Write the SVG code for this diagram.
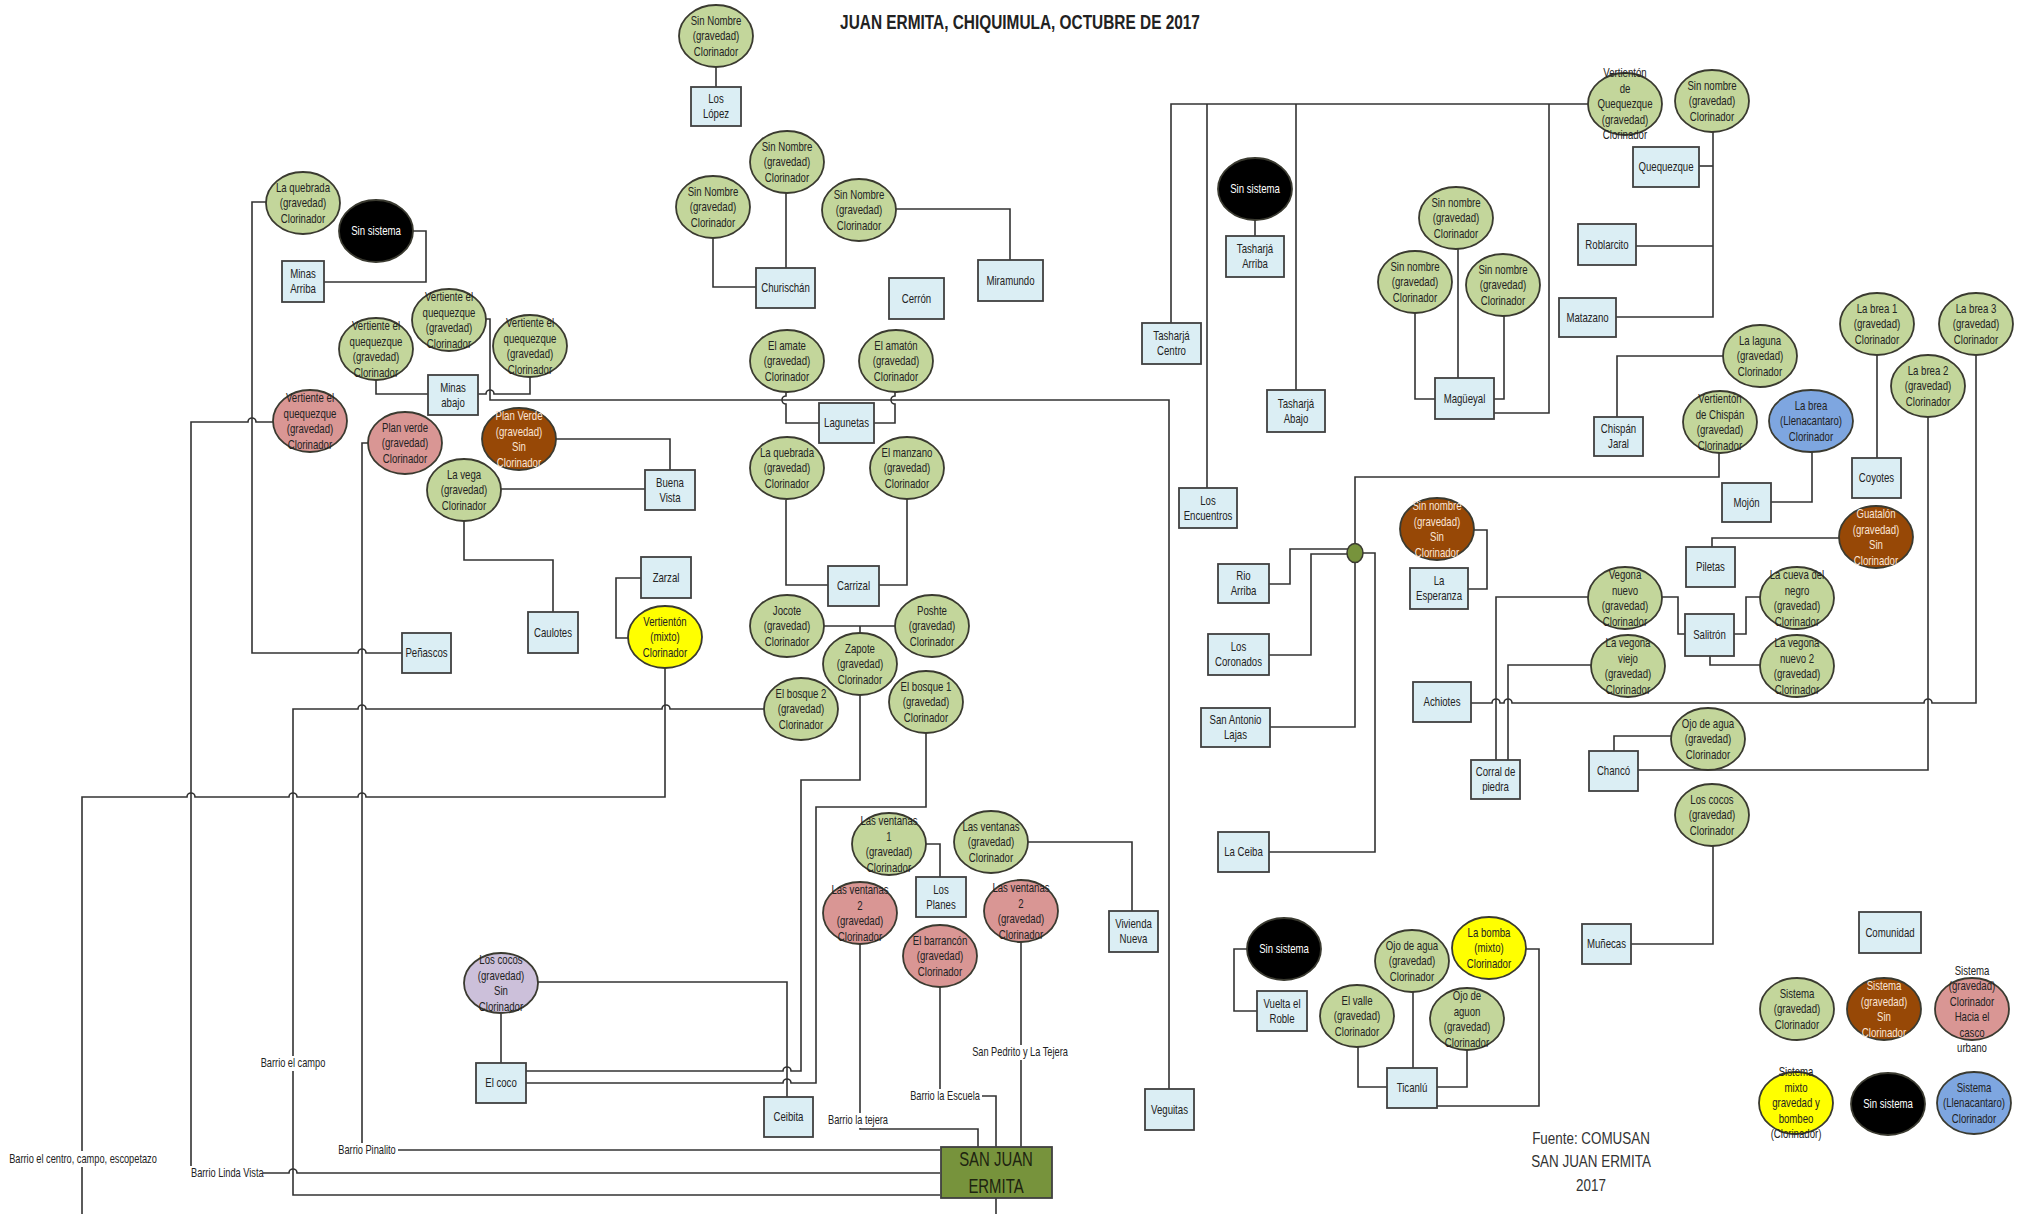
<svg xmlns="http://www.w3.org/2000/svg" width="2030" height="1214" viewBox="0 0 2030 1214">
<style>
.e{stroke:#3a3a30;stroke-width:1.8}
.gr{fill:#c3d69b}.pk{fill:#d99694}.br{fill:#974806}.ye{fill:#ffff00}.bk{fill:#000}.bl{fill:#7ea6e0}.pu{fill:#ccc0da}
.b{fill:#dbeef4;stroke:#404040;stroke-width:1.8}
.t{font-family:"Liberation Sans",Arial,sans-serif;font-size:12.5px;fill:#222;text-anchor:middle}
.w{fill:#fff}.l{fill:#fbe5d6}
.lab{font-family:"Liberation Sans",Arial,sans-serif;font-size:12px;fill:#222}
.bg{fill:#fff}
#conn path{fill:none;stroke:#333;stroke-width:1.6}
</style>
<rect width="2030" height="1214" fill="#fff"/>
<text transform="translate(1020,29) scale(0.79,1)" style="font-family:'Liberation Sans',Arial,sans-serif;font-size:19.5px;font-weight:bold;fill:#222;text-anchor:middle">JUAN ERMITA, CHIQUIMULA, OCTUBRE DE 2017</text>

<g id="conn">
<path d="M267,202 H252 V653 H358 a4,4 0 0 1 8,0 H402"/>
<path d="M413,231 H426 V282 H324"/>
<path d="M376,380 V394 H428"/>
<path d="M478,394 H486 a4,4 0 0 1 8,0 H530 V377"/>
<path d="M486,319 H490 V400 H1169 V1089"/>
<path d="M191,1168 V422 H248 a4,4 0 0 1 8,0 H274"/>
<path d="M262,1173 H289 a4,4 0 0 1 8,0 H940"/>
<path d="M369,443 H362 V1144"/>
<path d="M396,1150 H940"/>
<path d="M556,439 H670 V470"/>
<path d="M501,489 H645"/>
<path d="M464,521 V560 H553 V612"/>
<path d="M641,578 H616 V638 H628"/>
<path d="M82,1214 V797 H187 a4,4 0 0 1 8,0 H289 a4,4 0 0 1 8,0 H358 a4,4 0 0 1 8,0 H665 V668"/>
<path d="M940,1195 H293 V709 H358 a4,4 0 0 1 8,0 H662 a4,4 0 0 1 8,0 H764"/>
<path d="M716,67 V87"/>
<path d="M786,193 V268"/>
<path d="M713,238 V287 H756"/>
<path d="M896,209 H1010 V260"/>
<path d="M786,392 V396 a4,4 0 0 0 0,8 V423 H819"/>
<path d="M895,392 V396 a4,4 0 0 0 0,8 V423 H874"/>
<path d="M786,500 V585 H828"/>
<path d="M907,499 V585 H879"/>
<path d="M823,626 H895 M860,626 V633"/>
<path d="M860,695 V780 H801 V1071 H791 a4,4 0 0 0 -8,0 H526"/>
<path d="M926,733 V807 H816 V1083 H791 a4,4 0 0 0 -8,0 H526"/>
<path d="M538,982 H787 V1097"/>
<path d="M501,1014 V1063"/>
<path d="M926,844 H940 V877"/>
<path d="M1028,842 H1132 V911"/>
<path d="M860,944 V1129 H978 V1147"/>
<path d="M940,987 V1092"/>
<path d="M982,1096 H996 V1147"/>
<path d="M1021,942 V1147"/>
<path d="M996,1198 V1214"/>
<path d="M1171,323 V104 H1589"/>
<path d="M1207,104 V488"/>
<path d="M1296,104 V390"/>
<path d="M1494,413 H1549 V104"/>
<path d="M1255,220 V236"/>
<path d="M1458,249 V378"/>
<path d="M1415,313 V399 H1435"/>
<path d="M1504,316 V399 H1494"/>
<path d="M1713,132 V317 H1616"/>
<path d="M1713,166 H1699"/>
<path d="M1713,246 H1636"/>
<path d="M1724,356 H1617 V417"/>
<path d="M1877,355 V458"/>
<path d="M1928,417 V770 H1638"/>
<path d="M1471,703 H1492 a4,4 0 0 1 8,0 H1504 a4,4 0 0 1 8,0 H1924 a4,4 0 0 1 8,0 H1976 V355"/>
<path d="M1812,452 V502 H1771"/>
<path d="M1719,453 V477 H1355 V544"/>
<path d="M1362,553 H1375 V852 H1269"/>
<path d="M1348,549 H1290 V584 H1269"/>
<path d="M1348,554 H1311 V655 H1269"/>
<path d="M1355,562 V727 H1270"/>
<path d="M1474,530 H1487 V589 H1468"/>
<path d="M1840,538 H1712 V547"/>
<path d="M1661,597 H1678 V634 H1685"/>
<path d="M1734,634 H1746 V597 H1760"/>
<path d="M1710,656 V665 H1760"/>
<path d="M1588,597 H1496 V760"/>
<path d="M1592,665 H1508 V760"/>
<path d="M1672,736 H1614 V751"/>
<path d="M1713,846 V944 H1631"/>
<path d="M1247,949 H1234 V1011 H1257"/>
<path d="M1358,1047 V1087 H1387"/>
<path d="M1413,992 V1068"/>
<path d="M1467,1050 V1087 H1437"/>
<path d="M1525,949 H1539 V1106 H1437"/>
</g>

<g id="labels">
<rect class="bg" x="6" y="1151" width="154" height="16"/>
<text class="lab" transform="translate(83,1163) scale(0.77,1)" text-anchor="middle">Barrio el centro, campo, escopetazo</text>
<rect class="bg" x="189" y="1166" width="74" height="15"/>
<text class="lab" transform="translate(191,1177) scale(0.77,1)">Barrio Linda Vista</text>
<rect class="bg" x="337" y="1143" width="61" height="15"/>
<text class="lab" transform="translate(367,1154) scale(0.77,1)" text-anchor="middle">Barrio Pinalito</text>
<rect class="bg" x="258" y="1056" width="70" height="15"/>
<text class="lab" transform="translate(293,1067) scale(0.77,1)" text-anchor="middle">Barrio el campo</text>
<rect class="bg" x="825" y="1113" width="67" height="15"/>
<text class="lab" transform="translate(858,1124) scale(0.77,1)" text-anchor="middle">Barrio la tejera</text>
<rect class="bg" x="908" y="1089" width="74" height="15"/>
<text class="lab" transform="translate(945,1100) scale(0.77,1)" text-anchor="middle">Barrio la Escuela</text>
<rect class="bg" x="970" y="1045" width="100" height="15"/>
<text class="lab" transform="translate(1020,1056) scale(0.77,1)" text-anchor="middle">San Pedrito y La Tejera</text>
</g>

<!-- boxes -->
<g id="n_minas_arriba"><rect class="b" x="282" y="261" width="42" height="41"/><text class="t" transform="translate(303,281.5) scale(0.77,1)"><tspan x="0" y="-3.2">Minas</tspan><tspan x="0" y="11.8">Arriba</tspan></text></g>
<g id="n_minas_abajo"><rect class="b" x="428" y="375" width="50" height="40"/><text class="t" transform="translate(453,395) scale(0.77,1)"><tspan x="0" y="-3.2">Minas</tspan><tspan x="0" y="11.8">abajo</tspan></text></g>
<g id="n_buena_vista"><rect class="b" x="645" y="470" width="50" height="40"/><text class="t" transform="translate(670,490) scale(0.77,1)"><tspan x="0" y="-3.2">Buena</tspan><tspan x="0" y="11.8">Vista</tspan></text></g>
<g id="n_caulotes"><rect class="b" x="528" y="612" width="50" height="41"/><text class="t" transform="translate(553,632.5) scale(0.77,1)"><tspan x="0" y="4.3">Caulotes</tspan></text></g>
<g id="n_zarzal"><rect class="b" x="641" y="557" width="50" height="41"/><text class="t" transform="translate(666,577.5) scale(0.77,1)"><tspan x="0" y="4.3">Zarzal</tspan></text></g>
<g id="n_penascos"><rect class="b" x="402" y="633" width="49" height="40"/><text class="t" transform="translate(426.5,653) scale(0.77,1)"><tspan x="0" y="4.3">Peñascos</tspan></text></g>
<g id="n_los_lopez"><rect class="b" x="691" y="87" width="50" height="39"/><text class="t" transform="translate(716,106.5) scale(0.77,1)"><tspan x="0" y="-3.2">Los</tspan><tspan x="0" y="11.8">López</tspan></text></g>
<g id="n_churischan"><rect class="b" x="756" y="268" width="59" height="40"/><text class="t" transform="translate(785.5,288) scale(0.77,1)"><tspan x="0" y="4.3">Churischán</tspan></text></g>
<g id="n_cerron"><rect class="b" x="889" y="278" width="55" height="41"/><text class="t" transform="translate(916.5,298.5) scale(0.77,1)"><tspan x="0" y="4.3">Cerrón</tspan></text></g>
<g id="n_miramundo"><rect class="b" x="978" y="260" width="65" height="41"/><text class="t" transform="translate(1010.5,280.5) scale(0.77,1)"><tspan x="0" y="4.3">Miramundo</tspan></text></g>
<g id="n_lagunetas"><rect class="b" x="819" y="403" width="55" height="40"/><text class="t" transform="translate(846.5,423) scale(0.77,1)"><tspan x="0" y="4.3">Lagunetas</tspan></text></g>
<g id="n_carrizal"><rect class="b" x="828" y="566" width="51" height="40"/><text class="t" transform="translate(853.5,586) scale(0.77,1)"><tspan x="0" y="4.3">Carrizal</tspan></text></g>
<g id="n_los_planes"><rect class="b" x="916" y="877" width="50" height="40"/><text class="t" transform="translate(941,897) scale(0.77,1)"><tspan x="0" y="-3.2">Los</tspan><tspan x="0" y="11.8">Planes</tspan></text></g>
<g id="n_vivienda_nueva"><rect class="b" x="1109" y="911" width="49" height="41"/><text class="t" transform="translate(1133.5,931.5) scale(0.77,1)"><tspan x="0" y="-3.2">Vivienda</tspan><tspan x="0" y="11.8">Nueva</tspan></text></g>
<g id="n_ceibita"><rect class="b" x="764" y="1097" width="49" height="40"/><text class="t" transform="translate(788.5,1117) scale(0.77,1)"><tspan x="0" y="4.3">Ceibita</tspan></text></g>
<g id="n_el_coco"><rect class="b" x="476" y="1063" width="50" height="40"/><text class="t" transform="translate(501,1083) scale(0.77,1)"><tspan x="0" y="4.3">El coco</tspan></text></g>
<g id="n_veguitas"><rect class="b" x="1145" y="1089" width="49" height="41"/><text class="t" transform="translate(1169.5,1109.5) scale(0.77,1)"><tspan x="0" y="4.3">Veguitas</tspan></text></g>
<g id="n_sje"><rect x="941" y="1147" width="111" height="51" fill="#77933c" stroke="#404040" stroke-width="1.8"/><text transform="translate(996,0) scale(0.71,1)" style="font-family:'Liberation Sans',Arial,sans-serif;font-size:21px;fill:#1e2410;text-anchor:middle"><tspan x="0" y="1166">SAN JUAN</tspan><tspan x="0" y="1193">ERMITA</tspan></text></g>
<g id="n_tasharja_centro"><rect class="b" x="1142" y="323" width="59" height="41"/><text class="t" transform="translate(1171.5,343.5) scale(0.77,1)"><tspan x="0" y="-3.2">Tasharjá</tspan><tspan x="0" y="11.8">Centro</tspan></text></g>
<g id="n_tasharja_arriba"><rect class="b" x="1226" y="236" width="58" height="41"/><text class="t" transform="translate(1255,256.5) scale(0.77,1)"><tspan x="0" y="-3.2">Tasharjá</tspan><tspan x="0" y="11.8">Arriba</tspan></text></g>
<g id="n_tasharja_abajo"><rect class="b" x="1267" y="390" width="58" height="42"/><text class="t" transform="translate(1296,411) scale(0.77,1)"><tspan x="0" y="-3.2">Tasharjá</tspan><tspan x="0" y="11.8">Abajo</tspan></text></g>
<g id="n_los_encuentros"><rect class="b" x="1179" y="488" width="58" height="40"/><text class="t" transform="translate(1208,508) scale(0.77,1)"><tspan x="0" y="-3.2">Los</tspan><tspan x="0" y="11.8">Encuentros</tspan></text></g>
<g id="n_rio_arriba"><rect class="b" x="1218" y="564" width="51" height="39"/><text class="t" transform="translate(1243.5,583.5) scale(0.77,1)"><tspan x="0" y="-3.2">Rio</tspan><tspan x="0" y="11.8">Arriba</tspan></text></g>
<g id="n_los_coronados"><rect class="b" x="1208" y="634" width="61" height="41"/><text class="t" transform="translate(1238.5,654.5) scale(0.77,1)"><tspan x="0" y="-3.2">Los</tspan><tspan x="0" y="11.8">Coronados</tspan></text></g>
<g id="n_san_antonio"><rect class="b" x="1201" y="708" width="69" height="39"/><text class="t" transform="translate(1235.5,727.5) scale(0.77,1)"><tspan x="0" y="-3.2">San Antonio</tspan><tspan x="0" y="11.8">Lajas</tspan></text></g>
<g id="n_la_ceiba"><rect class="b" x="1218" y="832" width="51" height="40"/><text class="t" transform="translate(1243.5,852) scale(0.77,1)"><tspan x="0" y="4.3">La Ceiba</tspan></text></g>
<g id="n_vuelta_roble"><rect class="b" x="1257" y="991" width="50" height="40"/><text class="t" transform="translate(1282,1011) scale(0.77,1)"><tspan x="0" y="-3.2">Vuelta el</tspan><tspan x="0" y="11.8">Roble</tspan></text></g>
<g id="n_ticanlu"><rect class="b" x="1387" y="1068" width="50" height="40"/><text class="t" transform="translate(1412,1088) scale(0.77,1)"><tspan x="0" y="4.3">Ticanlú</tspan></text></g>
<g id="n_munecas"><rect class="b" x="1582" y="924" width="49" height="40"/><text class="t" transform="translate(1606.5,944) scale(0.77,1)"><tspan x="0" y="4.3">Muñecas</tspan></text></g>
<g id="n_quequezque"><rect class="b" x="1633" y="147" width="66" height="40"/><text class="t" transform="translate(1666,167) scale(0.77,1)"><tspan x="0" y="4.3">Quequezque</tspan></text></g>
<g id="n_roblarcito"><rect class="b" x="1578" y="224" width="58" height="41"/><text class="t" transform="translate(1607,244.5) scale(0.77,1)"><tspan x="0" y="4.3">Roblarcito</tspan></text></g>
<g id="n_matazano"><rect class="b" x="1559" y="298" width="57" height="39"/><text class="t" transform="translate(1587.5,317.5) scale(0.77,1)"><tspan x="0" y="4.3">Matazano</tspan></text></g>
<g id="n_magueyal"><rect class="b" x="1435" y="378" width="59" height="41"/><text class="t" transform="translate(1464.5,398.5) scale(0.77,1)"><tspan x="0" y="4.3">Magüeyal</tspan></text></g>
<g id="n_chispan_jaral"><rect class="b" x="1594" y="417" width="49" height="39"/><text class="t" transform="translate(1618.5,436.5) scale(0.77,1)"><tspan x="0" y="-3.2">Chispán</tspan><tspan x="0" y="11.8">Jaral</tspan></text></g>
<g id="n_coyotes"><rect class="b" x="1852" y="458" width="49" height="40"/><text class="t" transform="translate(1876.5,478) scale(0.77,1)"><tspan x="0" y="4.3">Coyotes</tspan></text></g>
<g id="n_mojon"><rect class="b" x="1722" y="483" width="49" height="39"/><text class="t" transform="translate(1746.5,502.5) scale(0.77,1)"><tspan x="0" y="4.3">Mojón</tspan></text></g>
<g id="n_piletas"><rect class="b" x="1686" y="547" width="49" height="40"/><text class="t" transform="translate(1710.5,567) scale(0.77,1)"><tspan x="0" y="4.3">Piletas</tspan></text></g>
<g id="n_la_esperanza"><rect class="b" x="1410" y="568" width="58" height="41"/><text class="t" transform="translate(1439,588.5) scale(0.77,1)"><tspan x="0" y="-3.2">La</tspan><tspan x="0" y="11.8">Esperanza</tspan></text></g>
<g id="n_salitron"><rect class="b" x="1685" y="614" width="49" height="42"/><text class="t" transform="translate(1709.5,635) scale(0.77,1)"><tspan x="0" y="4.3">Salitrón</tspan></text></g>
<g id="n_achiotes"><rect class="b" x="1413" y="682" width="58" height="40"/><text class="t" transform="translate(1442,702) scale(0.77,1)"><tspan x="0" y="4.3">Achiotes</tspan></text></g>
<g id="n_corral"><rect class="b" x="1471" y="760" width="49" height="39"/><text class="t" transform="translate(1495.5,779.5) scale(0.77,1)"><tspan x="0" y="-3.2">Corral de</tspan><tspan x="0" y="11.8">piedra</tspan></text></g>
<g id="n_chanco"><rect class="b" x="1589" y="751" width="49" height="40"/><text class="t" transform="translate(1613.5,771) scale(0.77,1)"><tspan x="0" y="4.3">Chancó</tspan></text></g>
<g id="n_comunidad"><rect class="b" x="1859" y="912" width="62" height="41"/><text class="t" transform="translate(1890,932.5) scale(0.77,1)"><tspan x="0" y="4.3">Comunidad</tspan></text></g>

<!-- green systems -->
<g id="s_la_quebrada_1" transform="translate(303,203)"><ellipse class="e gr" rx="37" ry="31"/><text class="t" transform="scale(0.77,1)"><tspan x="0" y="-11.2">La quebrada</tspan><tspan x="0" y="4.3">(gravedad)</tspan><tspan x="0" y="19.8">Clorinador</tspan></text></g>
<g id="s_vq_mid" transform="translate(449,320)"><ellipse class="e gr" rx="37" ry="31"/><text class="t" transform="scale(0.77,1)"><tspan x="0" y="-18.95">Vertiente el</tspan><tspan x="0" y="-3.45">quequezque</tspan><tspan x="0" y="12.05">(gravedad)</tspan><tspan x="0" y="27.55">Clorinador</tspan></text></g>
<g id="s_vq_left" transform="translate(376,349)"><ellipse class="e gr" rx="37" ry="31"/><text class="t" transform="scale(0.77,1)"><tspan x="0" y="-18.95">Vertiente el</tspan><tspan x="0" y="-3.45">quequezque</tspan><tspan x="0" y="12.05">(gravedad)</tspan><tspan x="0" y="27.55">Clorinador</tspan></text></g>
<g id="s_vq_right" transform="translate(530,346)"><ellipse class="e gr" rx="37" ry="31"/><text class="t" transform="scale(0.77,1)"><tspan x="0" y="-18.95">Vertiente el</tspan><tspan x="0" y="-3.45">quequezque</tspan><tspan x="0" y="12.05">(gravedad)</tspan><tspan x="0" y="27.55">Clorinador</tspan></text></g>
<g id="s_la_vega" transform="translate(464,490)"><ellipse class="e gr" rx="37" ry="31"/><text class="t" transform="scale(0.77,1)"><tspan x="0" y="-11.2">La vega</tspan><tspan x="0" y="4.3">(gravedad)</tspan><tspan x="0" y="19.8">Clorinador</tspan></text></g>
<g id="s_sn_top" transform="translate(716,36)"><ellipse class="e gr" rx="37" ry="31"/><text class="t" transform="scale(0.77,1)"><tspan x="0" y="-11.2">Sin Nombre</tspan><tspan x="0" y="4.3">(gravedad)</tspan><tspan x="0" y="19.8">Clorinador</tspan></text></g>
<g id="s_sn_mid" transform="translate(787,162)"><ellipse class="e gr" rx="37" ry="31"/><text class="t" transform="scale(0.77,1)"><tspan x="0" y="-11.2">Sin Nombre</tspan><tspan x="0" y="4.3">(gravedad)</tspan><tspan x="0" y="19.8">Clorinador</tspan></text></g>
<g id="s_sn_left" transform="translate(713,207)"><ellipse class="e gr" rx="37" ry="31"/><text class="t" transform="scale(0.77,1)"><tspan x="0" y="-11.2">Sin Nombre</tspan><tspan x="0" y="4.3">(gravedad)</tspan><tspan x="0" y="19.8">Clorinador</tspan></text></g>
<g id="s_sn_right" transform="translate(859,210)"><ellipse class="e gr" rx="37" ry="31"/><text class="t" transform="scale(0.77,1)"><tspan x="0" y="-11.2">Sin Nombre</tspan><tspan x="0" y="4.3">(gravedad)</tspan><tspan x="0" y="19.8">Clorinador</tspan></text></g>
<g id="s_el_amate" transform="translate(787,361)"><ellipse class="e gr" rx="37" ry="31"/><text class="t" transform="scale(0.77,1)"><tspan x="0" y="-11.2">El amate</tspan><tspan x="0" y="4.3">(gravedad)</tspan><tspan x="0" y="19.8">Clorinador</tspan></text></g>
<g id="s_el_amaton" transform="translate(896,361)"><ellipse class="e gr" rx="37" ry="31"/><text class="t" transform="scale(0.77,1)"><tspan x="0" y="-11.2">El amatón</tspan><tspan x="0" y="4.3">(gravedad)</tspan><tspan x="0" y="19.8">Clorinador</tspan></text></g>
<g id="s_la_quebrada_2" transform="translate(787,468)"><ellipse class="e gr" rx="37" ry="31"/><text class="t" transform="scale(0.77,1)"><tspan x="0" y="-11.2">La quebrada</tspan><tspan x="0" y="4.3">(gravedad)</tspan><tspan x="0" y="19.8">Clorinador</tspan></text></g>
<g id="s_el_manzano" transform="translate(907,468)"><ellipse class="e gr" rx="37" ry="31"/><text class="t" transform="scale(0.77,1)"><tspan x="0" y="-11.2">El manzano</tspan><tspan x="0" y="4.3">(gravedad)</tspan><tspan x="0" y="19.8">Clorinador</tspan></text></g>
<g id="s_jocote" transform="translate(787,626)"><ellipse class="e gr" rx="37" ry="31"/><text class="t" transform="scale(0.77,1)"><tspan x="0" y="-11.2">Jocote</tspan><tspan x="0" y="4.3">(gravedad)</tspan><tspan x="0" y="19.8">Clorinador</tspan></text></g>
<g id="s_poshte" transform="translate(932,626)"><ellipse class="e gr" rx="37" ry="31"/><text class="t" transform="scale(0.77,1)"><tspan x="0" y="-11.2">Poshte</tspan><tspan x="0" y="4.3">(gravedad)</tspan><tspan x="0" y="19.8">Clorinador</tspan></text></g>
<g id="s_zapote" transform="translate(860,664)"><ellipse class="e gr" rx="37" ry="31"/><text class="t" transform="scale(0.77,1)"><tspan x="0" y="-11.2">Zapote</tspan><tspan x="0" y="4.3">(gravedad)</tspan><tspan x="0" y="19.8">Clorinador</tspan></text></g>
<g id="s_el_bosque_2" transform="translate(801,709)"><ellipse class="e gr" rx="37" ry="31"/><text class="t" transform="scale(0.77,1)"><tspan x="0" y="-11.2">El bosque 2</tspan><tspan x="0" y="4.3">(gravedad)</tspan><tspan x="0" y="19.8">Clorinador</tspan></text></g>
<g id="s_el_bosque_1" transform="translate(926,702)"><ellipse class="e gr" rx="37" ry="31"/><text class="t" transform="scale(0.77,1)"><tspan x="0" y="-11.2">El bosque 1</tspan><tspan x="0" y="4.3">(gravedad)</tspan><tspan x="0" y="19.8">Clorinador</tspan></text></g>
<g id="s_las_ventanas_1" transform="translate(889,844)"><ellipse class="e gr" rx="37" ry="31"/><text class="t" transform="scale(0.77,1)"><tspan x="0" y="-18.95">Las ventanas</tspan><tspan x="0" y="-3.45">1</tspan><tspan x="0" y="12.05">(gravedad)</tspan><tspan x="0" y="27.55">Clorinador</tspan></text></g>
<g id="s_las_ventanas" transform="translate(991,842)"><ellipse class="e gr" rx="37" ry="31"/><text class="t" transform="scale(0.77,1)"><tspan x="0" y="-11.2">Las ventanas</tspan><tspan x="0" y="4.3">(gravedad)</tspan><tspan x="0" y="19.8">Clorinador</tspan></text></g>
<g id="s_vertienton_quequezque" transform="translate(1625,104)"><ellipse class="e gr" rx="37" ry="31"/><text class="t" transform="scale(0.77,1)"><tspan x="0" y="-26.7">Vertientón</tspan><tspan x="0" y="-11.2">de</tspan><tspan x="0" y="4.3">Quequezque</tspan><tspan x="0" y="19.8">(gravedad)</tspan><tspan x="0" y="35.3">Clorinador</tspan></text></g>
<g id="s_sn_quequezque" transform="translate(1712,101)"><ellipse class="e gr" rx="37" ry="31"/><text class="t" transform="scale(0.77,1)"><tspan x="0" y="-11.2">Sin nombre</tspan><tspan x="0" y="4.3">(gravedad)</tspan><tspan x="0" y="19.8">Clorinador</tspan></text></g>
<g id="s_mag_top" transform="translate(1456,218)"><ellipse class="e gr" rx="37" ry="31"/><text class="t" transform="scale(0.77,1)"><tspan x="0" y="-11.2">Sin nombre</tspan><tspan x="0" y="4.3">(gravedad)</tspan><tspan x="0" y="19.8">Clorinador</tspan></text></g>
<g id="s_mag_left" transform="translate(1415,282)"><ellipse class="e gr" rx="37" ry="31"/><text class="t" transform="scale(0.77,1)"><tspan x="0" y="-11.2">Sin nombre</tspan><tspan x="0" y="4.3">(gravedad)</tspan><tspan x="0" y="19.8">Clorinador</tspan></text></g>
<g id="s_mag_right" transform="translate(1503,285)"><ellipse class="e gr" rx="37" ry="31"/><text class="t" transform="scale(0.77,1)"><tspan x="0" y="-11.2">Sin nombre</tspan><tspan x="0" y="4.3">(gravedad)</tspan><tspan x="0" y="19.8">Clorinador</tspan></text></g>
<g id="s_la_laguna" transform="translate(1760,356)"><ellipse class="e gr" rx="37" ry="31"/><text class="t" transform="scale(0.77,1)"><tspan x="0" y="-11.2">La laguna</tspan><tspan x="0" y="4.3">(gravedad)</tspan><tspan x="0" y="19.8">Clorinador</tspan></text></g>
<g id="s_la_brea_1" transform="translate(1877,324)"><ellipse class="e gr" rx="37" ry="31"/><text class="t" transform="scale(0.77,1)"><tspan x="0" y="-11.2">La brea 1</tspan><tspan x="0" y="4.3">(gravedad)</tspan><tspan x="0" y="19.8">Clorinador</tspan></text></g>
<g id="s_la_brea_3" transform="translate(1976,324)"><ellipse class="e gr" rx="37" ry="31"/><text class="t" transform="scale(0.77,1)"><tspan x="0" y="-11.2">La brea 3</tspan><tspan x="0" y="4.3">(gravedad)</tspan><tspan x="0" y="19.8">Clorinador</tspan></text></g>
<g id="s_la_brea_2" transform="translate(1928,386)"><ellipse class="e gr" rx="37" ry="31"/><text class="t" transform="scale(0.77,1)"><tspan x="0" y="-11.2">La brea 2</tspan><tspan x="0" y="4.3">(gravedad)</tspan><tspan x="0" y="19.8">Clorinador</tspan></text></g>
<g id="s_vertienton_chispan" transform="translate(1720,422)"><ellipse class="e gr" rx="37" ry="31"/><text class="t" transform="scale(0.77,1)"><tspan x="0" y="-18.95">Vertientón</tspan><tspan x="0" y="-3.45">de Chispán</tspan><tspan x="0" y="12.05">(gravedad)</tspan><tspan x="0" y="27.55">Clorinador</tspan></text></g>
<g id="s_vegona_nuevo" transform="translate(1625,598)"><ellipse class="e gr" rx="37" ry="31"/><text class="t" transform="scale(0.77,1)"><tspan x="0" y="-18.95">Vegona</tspan><tspan x="0" y="-3.45">nuevo</tspan><tspan x="0" y="12.05">(gravedad)</tspan><tspan x="0" y="27.55">Clorinador</tspan></text></g>
<g id="s_vegona_viejo" transform="translate(1628,666)"><ellipse class="e gr" rx="37" ry="31"/><text class="t" transform="scale(0.77,1)"><tspan x="0" y="-18.95">La vegona</tspan><tspan x="0" y="-3.45">viejo</tspan><tspan x="0" y="12.05">(gravedad)</tspan><tspan x="0" y="27.55">Clorinador</tspan></text></g>
<g id="s_cueva_negro" transform="translate(1797,598)"><ellipse class="e gr" rx="37" ry="31"/><text class="t" transform="scale(0.77,1)"><tspan x="0" y="-18.95">La cueva del</tspan><tspan x="0" y="-3.45">negro</tspan><tspan x="0" y="12.05">(gravedad)</tspan><tspan x="0" y="27.55">Clorinador</tspan></text></g>
<g id="s_vegona_nuevo_2" transform="translate(1797,666)"><ellipse class="e gr" rx="37" ry="31"/><text class="t" transform="scale(0.77,1)"><tspan x="0" y="-18.95">La vegona</tspan><tspan x="0" y="-3.45">nuevo 2</tspan><tspan x="0" y="12.05">(gravedad)</tspan><tspan x="0" y="27.55">Clorinador</tspan></text></g>
<g id="s_ojo_agua_chanco" transform="translate(1708,739)"><ellipse class="e gr" rx="37" ry="31"/><text class="t" transform="scale(0.77,1)"><tspan x="0" y="-11.2">Ojo de agua</tspan><tspan x="0" y="4.3">(gravedad)</tspan><tspan x="0" y="19.8">Clorinador</tspan></text></g>
<g id="s_los_cocos_green" transform="translate(1712,815)"><ellipse class="e gr" rx="37" ry="31"/><text class="t" transform="scale(0.77,1)"><tspan x="0" y="-11.2">Los cocos</tspan><tspan x="0" y="4.3">(gravedad)</tspan><tspan x="0" y="19.8">Clorinador</tspan></text></g>
<g id="s_ojo_agua_ticanlu" transform="translate(1412,961)"><ellipse class="e gr" rx="37" ry="31"/><text class="t" transform="scale(0.77,1)"><tspan x="0" y="-11.2">Ojo de agua</tspan><tspan x="0" y="4.3">(gravedad)</tspan><tspan x="0" y="19.8">Clorinador</tspan></text></g>
<g id="s_el_valle" transform="translate(1357,1016)"><ellipse class="e gr" rx="37" ry="31"/><text class="t" transform="scale(0.77,1)"><tspan x="0" y="-11.2">El valle</tspan><tspan x="0" y="4.3">(gravedad)</tspan><tspan x="0" y="19.8">Clorinador</tspan></text></g>
<g id="s_ojo_aguon" transform="translate(1467,1019)"><ellipse class="e gr" rx="37" ry="31"/><text class="t" transform="scale(0.77,1)"><tspan x="0" y="-18.95">Ojo de</tspan><tspan x="0" y="-3.45">aguon</tspan><tspan x="0" y="12.05">(gravedad)</tspan><tspan x="0" y="27.55">Clorinador</tspan></text></g>

<!-- pink -->
<g id="s_vq_pink" transform="translate(310,421)"><ellipse class="e pk" rx="37" ry="31"/><text class="t" transform="scale(0.77,1)"><tspan x="0" y="-18.95">Vertiente el</tspan><tspan x="0" y="-3.45">quequezque</tspan><tspan x="0" y="12.05">(gravedad)</tspan><tspan x="0" y="27.55">Clorinador</tspan></text></g>
<g id="s_plan_verde_pink" transform="translate(405,443)"><ellipse class="e pk" rx="37" ry="31"/><text class="t" transform="scale(0.77,1)"><tspan x="0" y="-11.2">Plan verde</tspan><tspan x="0" y="4.3">(gravedad)</tspan><tspan x="0" y="19.8">Clorinador</tspan></text></g>
<g id="s_ventanas_2a" transform="translate(860,913)"><ellipse class="e pk" rx="37" ry="31"/><text class="t" transform="scale(0.77,1)"><tspan x="0" y="-18.95">Las ventanas</tspan><tspan x="0" y="-3.45">2</tspan><tspan x="0" y="12.05">(gravedad)</tspan><tspan x="0" y="27.55">Clorinador</tspan></text></g>
<g id="s_el_barrancon" transform="translate(940,956)"><ellipse class="e pk" rx="37" ry="31"/><text class="t" transform="scale(0.77,1)"><tspan x="0" y="-11.2">El barrancón</tspan><tspan x="0" y="4.3">(gravedad)</tspan><tspan x="0" y="19.8">Clorinador</tspan></text></g>
<g id="s_ventanas_2b" transform="translate(1021,911)"><ellipse class="e pk" rx="37" ry="31"/><text class="t" transform="scale(0.77,1)"><tspan x="0" y="-18.95">Las ventanas</tspan><tspan x="0" y="-3.45">2</tspan><tspan x="0" y="12.05">(gravedad)</tspan><tspan x="0" y="27.55">Clorinador</tspan></text></g>

<!-- brown -->
<g id="s_plan_verde_brown" transform="translate(519,439)"><ellipse class="e br" rx="37" ry="31"/><text class="t l" transform="scale(0.77,1)"><tspan x="0" y="-18.95">Plan Verde</tspan><tspan x="0" y="-3.45">(gravedad)</tspan><tspan x="0" y="12.05">Sin</tspan><tspan x="0" y="27.55">Clorinador</tspan></text></g>
<g id="s_sn_brown" transform="translate(1437,529)"><ellipse class="e br" rx="37" ry="31"/><text class="t l" transform="scale(0.77,1)"><tspan x="0" y="-18.95">Sin nombre</tspan><tspan x="0" y="-3.45">(gravedad)</tspan><tspan x="0" y="12.05">Sin</tspan><tspan x="0" y="27.55">Clorinador</tspan></text></g>
<g id="s_guatalon" transform="translate(1876,537)"><ellipse class="e br" rx="37" ry="31"/><text class="t l" transform="scale(0.77,1)"><tspan x="0" y="-18.95">Guatalón</tspan><tspan x="0" y="-3.45">(gravedad)</tspan><tspan x="0" y="12.05">Sin</tspan><tspan x="0" y="27.55">Clorinador</tspan></text></g>

<!-- yellow -->
<g id="s_vertienton_mixto" transform="translate(665,637)"><ellipse class="e ye" rx="37" ry="31"/><text class="t" transform="scale(0.77,1)"><tspan x="0" y="-11.2">Vertientón</tspan><tspan x="0" y="4.3">(mixto)</tspan><tspan x="0" y="19.8">Clorinador</tspan></text></g>
<g id="s_la_bomba" transform="translate(1489,948)"><ellipse class="e ye" rx="37" ry="31"/><text class="t" transform="scale(0.77,1)"><tspan x="0" y="-11.2">La bomba</tspan><tspan x="0" y="4.3">(mixto)</tspan><tspan x="0" y="19.8">Clorinador</tspan></text></g>

<!-- black -->
<g id="s_sin_sistema_1" transform="translate(376,231)"><ellipse class="e bk" rx="37" ry="31"/><text class="t w" transform="scale(0.77,1)"><tspan x="0" y="4.3">Sin sistema</tspan></text></g>
<g id="s_sin_sistema_2" transform="translate(1255,189)"><ellipse class="e bk" rx="37" ry="31"/><text class="t w" transform="scale(0.77,1)"><tspan x="0" y="4.3">Sin sistema</tspan></text></g>
<g id="s_sin_sistema_3" transform="translate(1284,949)"><ellipse class="e bk" rx="37" ry="31"/><text class="t w" transform="scale(0.77,1)"><tspan x="0" y="4.3">Sin sistema</tspan></text></g>

<!-- blue / purple -->
<g id="s_la_brea_llenacantaro" transform="translate(1811,421)"><ellipse class="e bl" rx="42" ry="31"/><text class="t" transform="scale(0.77,1)"><tspan x="0" y="-11.2">La brea</tspan><tspan x="0" y="4.3">(Llenacantaro)</tspan><tspan x="0" y="19.8">Clorinador</tspan></text></g>
<g id="s_los_cocos_purple" transform="translate(501,983)"><ellipse class="e pu" rx="37" ry="30"/><text class="t" transform="scale(0.77,1)"><tspan x="0" y="-18.95">Los cocos</tspan><tspan x="0" y="-3.45">(gravedad)</tspan><tspan x="0" y="12.05">Sin</tspan><tspan x="0" y="27.55">Clorinador</tspan></text></g>

<!-- junction -->
<g id="junction"><ellipse cx="1355" cy="553" rx="8" ry="9.5" fill="#77933c" stroke="#3a3a30" stroke-width="1.5"/></g>

<!-- legend -->
<g id="legend">
<g id="lg_green" transform="translate(1797,1009)"><ellipse class="e gr" rx="37" ry="31"/><text class="t" transform="scale(0.77,1)"><tspan x="0" y="-11.2">Sistema</tspan><tspan x="0" y="4.3">(gravedad)</tspan><tspan x="0" y="19.8">Clorinador</tspan></text></g>
<g id="lg_brown" transform="translate(1884,1009)"><ellipse class="e br" rx="37" ry="31"/><text class="t l" transform="scale(0.77,1)"><tspan x="0" y="-18.95">Sistema</tspan><tspan x="0" y="-3.45">(gravedad)</tspan><tspan x="0" y="12.05">Sin</tspan><tspan x="0" y="27.55">Clorinador</tspan></text></g>
<g id="lg_pink" transform="translate(1972,1009)"><ellipse class="e pk" rx="37" ry="31"/><text class="t" transform="scale(0.77,1)"><tspan x="0" y="-34.45">Sistema</tspan><tspan x="0" y="-18.95">(gravedad)</tspan><tspan x="0" y="-3.45">Clorinador</tspan><tspan x="0" y="12.05">Hacia el</tspan><tspan x="0" y="27.55">casco</tspan><tspan x="0" y="43.05">urbano</tspan></text></g>
<g id="lg_yellow" transform="translate(1796,1103)"><ellipse class="e ye" rx="37" ry="31"/><text class="t" transform="scale(0.77,1)"><tspan x="0" y="-26.7">Sistema</tspan><tspan x="0" y="-11.2">mixto</tspan><tspan x="0" y="4.3">gravedad y</tspan><tspan x="0" y="19.8">bombeo</tspan><tspan x="0" y="35.3">(Clorinador)</tspan></text></g>
<g id="lg_black" transform="translate(1888,1104)"><ellipse class="e bk" rx="37" ry="31"/><text class="t w" transform="scale(0.77,1)"><tspan x="0" y="4.3">Sin sistema</tspan></text></g>
<g id="lg_blue" transform="translate(1974,1103)"><ellipse class="e bl" rx="37" ry="31"/><text class="t" transform="scale(0.77,1)"><tspan x="0" y="-11.2">Sistema</tspan><tspan x="0" y="4.3">(Llenacantaro)</tspan><tspan x="0" y="19.8">Clorinador</tspan></text></g>
</g>

<g id="source"><text transform="translate(1591,0) scale(0.79,1)" style="font-family:'Liberation Sans',Arial,sans-serif;font-size:17px;fill:#333;text-anchor:middle"><tspan x="0" y="1144">Fuente: COMUSAN</tspan><tspan x="0" y="1167">SAN JUAN ERMITA</tspan><tspan x="0" y="1191">2017</tspan></text></g>
</svg>
